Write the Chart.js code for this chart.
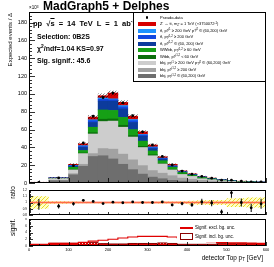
<!DOCTYPE html>
<html>
<head>
<meta charset="utf-8">
<title>MadGraph5 + Delphes - detector Top pT</title>
<script src="https://cdn.jsdelivr.net/npm/chart.js@4.4.1/dist/chart.umd.min.js"></script>
<style>
html,body{margin:0;padding:0;background:#fff;}
body{position:relative;width:274px;height:267px;overflow:hidden;font-family:"Liberation Sans",Arial,Helvetica,sans-serif;}
canvas{position:absolute;left:0;}
.t{position:absolute;white-space:nowrap;line-height:1;color:#000;}
.b{font-weight:bold;}
.rot{transform-origin:0 0;transform:rotate(-90deg);text-align:right;}
.t sub,.t sup{font-size:70%;line-height:0;position:relative;vertical-align:baseline;}
.t sup{top:-0.45em;}
.t sub{top:0.3em;}
.box{position:absolute;box-sizing:border-box;}
</style>
</head>
<body>
<canvas id="cMain" width="274" height="187" style="top:0px"></canvas>
<canvas id="cRatio" width="274" height="33" style="top:186px"></canvas>
<canvas id="cSig" width="274" height="49" style="top:218px"></canvas>

<div class="t b" style="left:43px;top:0px;font-size:12px">MadGraph5 + Delphes</div>
<div class="t" style="left:29px;top:6px;font-size:4.5px">×10<sup>3</sup></div>
<div class="t b" style="left:33px;top:19.5px;font-size:7.5px;word-spacing:2px">pp √<span style="text-decoration:overline">s</span> = 14 TeV L = 1 ab<sup>-1</sup></div>
<div class="t b" style="left:37px;top:32.5px;font-size:7px">Selection: 0B2S</div>
<div class="t b" style="left:37px;top:44.5px;font-size:7px">χ<sup>2</sup>/ndf=1.04 KS=0.97</div>
<div class="t b" style="left:37px;top:56.5px;font-size:7px">Sig. signif.: 45.6</div>
<div class="t rot" style="left:7px;top:113px;width:100px;font-size:6px">Expected events / Δ</div>
<div class="t rot" style="left:10px;top:226px;width:40px;font-size:6.5px">ratio</div>
<div class="t rot" style="left:10px;top:259px;width:40px;font-size:6.5px">signif.</div>
<div class="t" style="right:11px;top:255px;font-size:6.4px">detector Top p<sub>T</sub> [GeV]</div>

<div id="legend"></div>
<div id="sigLegend"></div>

<script>
// ------------------------------------------------------------------
// Data (values in units of 10^3 expected events per bin)
// ------------------------------------------------------------------
const binEdges   = [0,25,50,75,100,125,150,175,200,225,250,275,300,325,350,375,400,425,450,475,500,525,550,575,600];
const binCenters = [12.5,37.5,62.5,87.5,112.5,137.5,162.5,187.5,212.5,237.5,262.5,287.5,312.5,337.5,362.5,387.5,412.5,437.5,462.5,487.5,512.5,537.5,562.5,587.5];

// stacked backgrounds + signal, bottom to top
const bbjLow   = [0.3,0.3,2.5,2.5,9.2,18.8,29.8,30.6,27,21,15,10,6.6,4.8,3,2,1.3,0.9,0.6,0.4,0.3,0.2,0.15,0.1];
const bbjHigh  = [0.1,0.1,0.5,0.5,1.3,2.2,3.2,8.1,11,11.4,11,9.5,7.4,6.2,5.2,3.5,2.9,2.1,1.6,1.1,0.8,0.6,0.45,0.35];
const bbjMixed = [0.2,0.2,2,2,4.2,12,22,30.3,31.5,30.2,25.6,20.3,16.6,10.4,6.5,4.1,3.2,1.8,1.5,1.1,0.7,0.5,0.3,0.25];
const wtbb     = [0.01,0.01,0.06,0.06,0.6,0.7,1.5,2.6,2.4,2.2,1.7,1.4,1.1,0.7,0.6,0.4,0.3,0.3,0.2,0.12,0.1,0.07,0.06,0.04];
const wwbb     = [0.04,0.04,0.24,0.24,2.4,2.8,6.1,10.4,9.6,8.9,6.7,5.8,4.3,2.9,2.4,1.8,1.1,1.1,0.7,0.48,0.4,0.28,0.24,0.16];
const ttLow    = [0.05,0.05,0.2,0.2,1.1,3.5,5.4,10,10.5,9.5,8,5.6,2.7,1.8,0.8,0.4,0.4,0.3,0.25,0.15,0.15,0.1,0.08,0.07];
const ttHigh   = [0.02,0.02,0.1,0.1,0.5,1,2,2,1.5,2.3,2,1.2,1,0.7,0.5,0.3,0.2,0.2,0.15,0.1,0.1,0.07,0.05,0.03];
const ttMixed  = [0.03,0.03,0.1,0.1,0.5,1,1,1.5,1,1.5,1.3,0.7,0.8,0.5,0.3,0.2,0.2,0.15,0.1,0.05,0.05,0.04,0.03,0.02];
const zprime   = [0.05,0.05,0.3,0.3,1.2,2,3,2.5,6.5,3.5,3.7,3,2.2,1.5,1.7,0.9,0.7,0.55,0.4,0.3,0.2,0.14,0.14,0.13];
const mcUnc    = [0.1,0.1,0.4,0.4,0.8,1.2,1.8,2.2,2.3,2.0,1.7,1.3,1.0,0.7,0.6,0.45,0.4,0.3,0.25,0.2,0.15,0.12,0.1,0.1];

// pseudo-data (first two points are merged 50 GeV bins)
const pointX        = [25,75,112.5,137.5,162.5,187.5,212.5,237.5,262.5,287.5,312.5,337.5,362.5,387.5,412.5,437.5,462.5,487.5,512.5,537.5,562.5,587.5];
const pseudoData    = [0.8,5.7,19.5,45,75,96,101,90,75.5,57.5,42.7,29.8,20.2,13.4,9.9,7.5,5.45,3.2,3.2,2.0,1.37,1.12];
const pseudoDataErr = [0.15,0.3,0.6,0.9,1.2,1.3,1.4,1.3,1.2,1.0,0.9,0.7,0.6,0.45,0.4,0.35,0.3,0.25,0.25,0.2,0.15,0.12];

// ratio panel
const ratioValues = [0.970,0.941,0.979,1.035,1.018,0.983,1.005,0.996,1.009,1.0,1.0,1.009,0.961,0.983,0.961,1.009,0.992,0.850,1.155,1.0,0.915,0.979];
const ratioErrors = [0.086,0.037,0.025,0.015,0.012,0.012,0.012,0.012,0.012,0.013,0.014,0.016,0.02,0.025,0.03,0.05,0.05,0.04,0.08,0.065,0.065,0.08];
const ratioBand   = [0.1,0.1,0.02,0.02,0.015,0.012,0.01,0.01,0.01,0.01,0.01,0.012,0.012,0.015,0.015,0.02,0.03,0.035,0.04,0.04,0.07,0.07,0.08,0.08];
const ratioLineBand = [0.015,0.015,0.015,0.015,0.015,0.015,0.015,0.015,0.015,0.015,0.015,0.015,0.015,0.015,0.015,0.015,0.015,0.015,0.015,0.015,0.015,0.015,0.015,0.015];

// significance panel
const signifExcl = [0.5,0.5,0.77,0.77,0.77,1.06,1.43,1.7,2.0,2.37,2.66,2.86,2.86,2.86,2.66,2.5,2.1,1.7,1.3,1.1,0.95,0.9,0.85,0.8];
const signifIncl = [0.3,0.3,0.8,0.8,0.8,1.0,1.0,0.7,0.6,0.6,0.75,0.75,0.75,0.9,0.75,0.5,0.5,0.5,0.5,0.7,0.7,0.7,0.7,0.7];

// tick labels
const mainYTicks      = [0,20,40,60,80,100,120,140,160,180];
const mainYTickLabels = ['0','20','40','60','80','100','120','140','160','180'];
const xTicks          = [0,100,200,300,400,500,600];
const xTickLabels     = ['0','100','200','300','400','500','600'];
const ratioYTicks      = [0.8,0.9,1,1.1,1.2];
const ratioYTickLabels = ['0.8','0.9','1','1.1','1.2'];
const sigYTicks        = [0,2,4,6,8];
const sigYTickLabels   = ['0','2','4','6','8'];

// ------------------------------------------------------------------
// Styles
// ------------------------------------------------------------------
const stackSpec = [
  {data: bbjLow,   color:'#6e6e6e', label:'bbj, p<sub>T</sub><sup>j1,2</sup> ∈ (60,200) GeV'},
  {data: bbjHigh,  color:'#a2a2a2', label:'bbj, p<sub>T</sub><sup>j1,2</sup> ≥ 200 GeV'},
  {data: bbjMixed, color:'#cdcdcd', label:'bbj, p<sub>T</sub><sup>j1</sup> ≥ 200 GeV p<sub>T</sub><sup>j2</sup> ∈ (60,200) GeV'},
  {data: wtbb,     color:'#0b6e0b', label:'Wtbb, p<sub>T</sub><sup>j1,2</sup> &lt; 60 GeV'},
  {data: wwbb,     color:'#16a016', label:'WWbb, p<sub>T</sub><sup>j1,2</sup> ≥ 60 GeV'},
  {data: ttLow,    color:'#0c3b9c', label:'tt̄, p<sub>T</sub><sup>j1,2</sup> ∈ (60, 200) GeV'},
  {data: ttHigh,   color:'#1248e0', label:'tt̄, p<sub>T</sub><sup>j1,2</sup> ≥ 200 GeV'},
  {data: ttMixed,  color:'#1e93ff', label:'tt̄, p<sub>T</sub><sup>j1</sup> ≥ 200 GeV p<sub>T</sub><sup>j2</sup> ∈ (60,200) GeV'},
  {data: zprime,   color:'#d60000', label:'Z\' → tt̄, m<sub>Z\'</sub> = 1 TeV (×3750072<sup>-1</sup>)'}
];

function hatch(color, bg, size, lw) {
  const c = document.createElement('canvas'); c.width = size; c.height = size;
  const g = c.getContext('2d');
  if (bg) { g.fillStyle = bg; g.fillRect(0, 0, size, size); }
  g.strokeStyle = color; g.lineWidth = lw;
  g.beginPath();
  g.moveTo(0, size); g.lineTo(size, 0);
  g.moveTo(-1, 1); g.lineTo(1, -1);
  g.moveTo(size - 1, size + 1); g.lineTo(size + 1, size - 1);
  g.stroke();
  return g.createPattern(c, 'repeat');
}
function dotted(color, size) {
  const c = document.createElement('canvas'); c.width = size; c.height = size;
  const g = c.getContext('2d');
  g.fillStyle = color; g.fillRect(0, 0, size, size);
  g.clearRect(1, 1, 1, 1);
  return g.createPattern(c, 'repeat');
}

// ROOT-like frame with inward ticks and labels, drawn through the chart scales
const rootFrame = {
  id: 'rootFrame',
  afterDatasetsDraw(chart, args, o) {
    const ctx = chart.ctx, a = chart.chartArea;
    const xs = chart.scales.x, ys = chart.scales.y;
    const L = Math.round(a.left), R = Math.round(a.right), T = Math.round(a.top), B = Math.round(a.bottom);
    ctx.save();
    ctx.strokeStyle = '#000';
    ctx.lineWidth = 0.8;
    ctx.beginPath();
    const nY = Math.round((ys.max - ys.min) / o.yMinorStep);
    for (let k = 0; k <= nY; k++) {
      const v = ys.min + k * o.yMinorStep;
      const major = o.yMajor.some(m => Math.abs(m - v) < 1e-6);
      const p = Math.round(ys.getPixelForValue(v)) + 0.5;
      ctx.moveTo(L, p); ctx.lineTo(L + (major ? o.yMajorLen : o.yMinorLen), p);
    }
    const nX = Math.round((xs.max - xs.min) / o.xMinorStep);
    for (let k = 0; k <= nX; k++) {
      const v = xs.min + k * o.xMinorStep;
      const major = o.xMajor.some(m => Math.abs(m - v) < 1e-6);
      const p = Math.round(xs.getPixelForValue(v)) + 0.5;
      ctx.moveTo(p, B); ctx.lineTo(p, B - (major ? o.xMajorLen : o.xMinorLen));
    }
    ctx.stroke();
    ctx.lineWidth = 1;
    ctx.strokeRect(L + 0.5, T + 0.5, R - L - 1, B - T - 1);
    ctx.fillStyle = '#000';
    if (o.yLabels) {
      ctx.font = o.yFont; ctx.textAlign = 'right'; ctx.textBaseline = 'middle';
      o.yLabels.forEach((t, i) => ctx.fillText(t, L - 2, ys.getPixelForValue(o.yMajor[i])));
    }
    if (o.xLabels) {
      ctx.font = o.xFont; ctx.textAlign = 'center'; ctx.textBaseline = 'middle';
      o.xLabels.forEach((t, i) => ctx.fillText(t, xs.getPixelForValue(o.xMajor[i]), B + 3.5));
    }
    ctx.restore();
  }
};

Chart.defaults.font.family = '"Liberation Sans", Arial, sans-serif';
const common = {responsive:false, animation:false, devicePixelRatio:1, events:[],
  plugins:{legend:{display:false}, tooltip:{enabled:false}}};

// ------------------------------------------------------------------
// Main panel
// ------------------------------------------------------------------
const mcTotal = binCenters.map((_, i) => stackSpec.reduce((s, c) => s + c.data[i], 0));
const mainDatasets = stackSpec.map(c => ({
  type:'bar', data: binCenters.map((x, i) => ({x, y: c.data[i]})),
  backgroundColor: c.color, borderWidth: 0, grouped: false, stack: 'mc',
  barPercentage: 1, categoryPercentage: 1, xAxisID: 'x', yAxisID: 'y', order: 1
}));
mainDatasets.push({
  type:'bar', data: binCenters.map((x, i) => ({x, y: [mcTotal[i] - mcUnc[i], mcTotal[i] + mcUnc[i]]})),
  backgroundColor: hatch('rgba(0,0,0,0.7)', null, 3, 0.7), borderWidth: 0, grouped: false,
  barPercentage: 1, categoryPercentage: 1, xAxisID: 'x', yAxisID: 'yU', order: 0
});
mainDatasets.push({
  type:'bar', data: pointX.map((x, i) => ({x, y: [pseudoData[i] - pseudoDataErr[i], pseudoData[i] + pseudoDataErr[i]]})),
  backgroundColor: '#000', borderWidth: 0, grouped: false, maxBarThickness: 1,
  xAxisID: 'xE', yAxisID: 'yU', order: -1
});
mainDatasets.push({
  type:'line', data: pointX.map((x, i) => ({x, y: pseudoData[i]})),
  showLine: false, pointRadius: 1.4, pointBackgroundColor: '#000', pointBorderWidth: 0,
  xAxisID: 'xE', yAxisID: 'yU', order: -2
});

new Chart(document.getElementById('cMain'), {
  type: 'bar',
  data: {datasets: mainDatasets},
  options: Object.assign({}, common, {
    layout: {padding: {left: 29, right: 8, top: 12, bottom: 1}},
    scales: {
      x:  {type:'linear', min:0, max:600, offset:false, display:false, ticks:{stepSize:100}},
      xE: {type:'linear', min:0, max:600, offset:false, display:false, ticks:{stepSize:100}},
      y:  {type:'linear', min:0, max:192, stacked:true, display:false},
      yU: {type:'linear', min:0, max:192, display:false}
    },
    plugins: Object.assign({}, common.plugins, {rootFrame: {
      yMajor: mainYTicks, yMinorStep: 4, yMajorLen: 6, yMinorLen: 3,
      xMajor: xTicks, xMinorStep: 25, xMajorLen: 5, xMinorLen: 2.5,
      yLabels: mainYTickLabels, yFont: '5.5px "Liberation Sans", Arial, sans-serif'
    }})
  }),
  plugins: [rootFrame]
});

// ------------------------------------------------------------------
// Ratio panel
// ------------------------------------------------------------------
const stepPts = (vals, f) => binEdges.map((e, i) => ({x: e, y: f(vals[Math.min(i, vals.length - 1)])}));
new Chart(document.getElementById('cRatio'), {
  type: 'line',
  data: {datasets: [
    {data: stepPts(ratioBand, v => 1 + v), stepped: 'before', borderWidth: 0, pointRadius: 0, fill: '+1',
     backgroundColor: hatch('#e2d000', 'rgba(255,255,160,0.6)', 4, 0.8), order: 6},
    {data: stepPts(ratioBand, v => 1 - v), stepped: 'before', borderWidth: 0, pointRadius: 0, fill: false, order: 6},
    {data: stepPts(ratioLineBand, v => 1 + v), stepped: 'before', borderWidth: 0, pointRadius: 0, fill: '+1',
     backgroundColor: 'rgba(255,150,130,0.45)', order: 5},
    {data: stepPts(ratioLineBand, v => 1 - v), stepped: 'before', borderWidth: 0, pointRadius: 0, fill: false, order: 5},
    {data: [{x: 0, y: 1}, {x: 600, y: 1}], borderColor: 'rgba(255,100,70,0.95)', borderWidth: 1.4, pointRadius: 0, fill: false, order: 4},
    {type: 'bar', data: pointX.map((x, i) => ({x, y: [ratioValues[i] - ratioErrors[i], ratioValues[i] + ratioErrors[i]]})),
     backgroundColor: '#000', borderWidth: 0, grouped: false, maxBarThickness: 1, order: 1},
    {data: pointX.map((x, i) => ({x, y: ratioValues[i]})), showLine: false, pointRadius: 1.4,
     pointBackgroundColor: '#000', pointBorderWidth: 0, order: 0}
  ]},
  options: Object.assign({}, common, {
    layout: {padding: {left: 29, right: 8, top: 1, bottom: 1}},
    scales: {
      x: {type:'linear', min:0, max:600, offset:false, display:false, ticks:{stepSize:100}},
      y: {type:'linear', min:0.8, max:1.2, display:false}
    },
    plugins: Object.assign({}, common.plugins, {rootFrame: {
      yMajor: ratioYTicks, yMinorStep: 0.02, yMajorLen: 4, yMinorLen: 2,
      xMajor: xTicks, xMinorStep: 25, xMajorLen: 3, xMinorLen: 1.5,
      yLabels: ratioYTickLabels, yFont: '3px "Liberation Sans", Arial, sans-serif'
    }})
  }),
  plugins: [rootFrame]
});

// ------------------------------------------------------------------
// Significance panel
// ------------------------------------------------------------------
new Chart(document.getElementById('cSig'), {
  type: 'line',
  data: {datasets: [
    {data: stepPts(signifIncl, v => v), stepped: 'before', borderColor: '#8b0000', borderWidth: 1,
     pointRadius: 0, fill: 'origin', backgroundColor: dotted('#e00000', 3), order: 2},
    {data: stepPts(signifExcl, v => v), stepped: 'before', borderColor: '#e00000', borderWidth: 1.2,
     pointRadius: 0, fill: false, order: 1}
  ]},
  options: Object.assign({}, common, {
    layout: {padding: {left: 29, right: 8, top: 1, bottom: 21}},
    scales: {
      x: {type:'linear', min:0, max:600, offset:false, display:false, ticks:{stepSize:100}},
      y: {type:'linear', min:0, max:8, display:false}
    },
    plugins: Object.assign({}, common.plugins, {rootFrame: {
      yMajor: sigYTicks, yMinorStep: 0.4, yMajorLen: 4, yMinorLen: 2,
      xMajor: xTicks, xMinorStep: 25, xMajorLen: 4, xMinorLen: 2,
      yLabels: sigYTickLabels, yFont: '3px "Liberation Sans", Arial, sans-serif',
      xLabels: xTickLabels, xFont: '4px "Liberation Sans", Arial, sans-serif'
    }})
  }),
  plugins: [rootFrame]
});

// ------------------------------------------------------------------
// Legends (HTML)
// ------------------------------------------------------------------
(function () {
  const lg = document.getElementById('legend');
  let html = '<div class="box" style="left:133px;top:12px;width:133px;height:70px;border:1px solid #000;background:#fff"></div>';
  const y0 = 17.5, dy = 6.5;
  html += '<div class="box" style="left:145.7px;top:' + (y0 - 1.4) + 'px;width:2.8px;height:2.8px;border-radius:50%;background:#000"></div>';
  html += '<div class="t" style="left:160px;top:' + (y0 - 2) + 'px;font-size:4px">Pseudo-data</div>';
  const rev = stackSpec.slice().reverse();
  rev.forEach((c, k) => {
    const yc = y0 + dy * (k + 1);
    html += '<div class="box" style="left:138px;top:' + (yc - 2) + 'px;width:18px;height:4px;background:' + c.color + '"></div>';
    html += '<div class="t" style="left:160px;top:' + (yc - 2) + 'px;font-size:4px">' + c.label + '</div>';
  });
  lg.innerHTML = html;

  const sl = document.getElementById('sigLegend');
  sl.innerHTML =
    '<div class="box" style="left:177px;top:223px;width:88px;height:19px;background:#fff"></div>' +
    '<div class="box" style="left:180px;top:227px;width:13px;height:1.5px;background:#e00000"></div>' +
    '<div class="t" style="left:195px;top:225.5px;font-size:4.5px">Signif. excl. bg. unc.</div>' +
    '<div class="box" style="left:180px;top:233px;width:13px;height:7px;border:1px solid #8b0000"></div>' +
    '<div class="t" style="left:195px;top:234.5px;font-size:4.5px">Signif. incl. bg. unc.</div>';
})();
</script>
</body>
</html>
